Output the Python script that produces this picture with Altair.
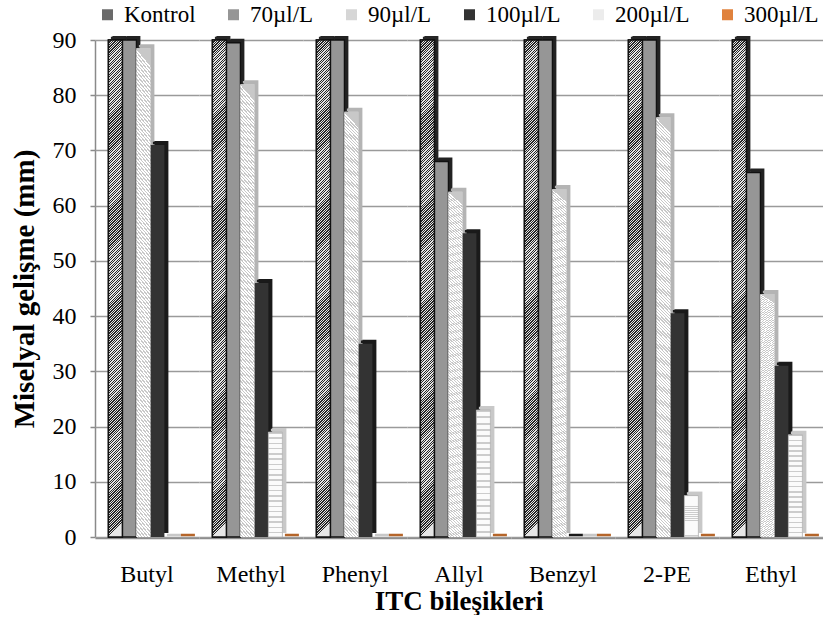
import altair as alt
import pandas as pd

categories = ["Butyl", "Methyl", "Phenyl", "Allyl", "Benzyl", "2-PE", "Ethyl"]
series = ["Kontrol", "70µl/L", "90µl/L", "100µl/L", "200µl/L", "300µl/L"]

kontrol = [90, 90, 90, 90, 90, 90, 90]
ul70 = [90, 89.5, 90, 68, 90, 90, 66]
ul90 = [88.5, 82, 77, 62.5, 63, 76, 44]
ul100 = [71, 46, 35, 55, 0, 40.5, 31]
ul200 = [0, 19, 0, 23, 0, 7.5, 18.5]
ul300 = [0, 0, 0, 0, 0, 0, 0]

front_colors = ["#6a6a6a", "#969696", "#d6d6d6", "#333333", "#ececec", "#e0823d"]
depth_colors = ["#262626", "#222222", "#b4b4b4", "#1a1a1a", "#c8c8c8", "#b5652a"]
shade_keys = ["d-" + s for s in series]

rows = []
for s, vals in zip(series, [kontrol, ul70, ul90, ul100, ul200, ul300]):
    for c, v in zip(categories, vals):
        rows.append({"cat": c, "series": s, "value": v})
df = pd.DataFrame(rows)

SERIF = "Liberation Serif"
LEGEND_FONT = "Times New Roman"


def stripes(c1, c2, n, frac, x1, y1, x2, y2):
    stops = []
    for i in range(n):
        s = i / n
        m = (i + frac) / n
        e = (i + 1) / n
        stops += [
            {"offset": round(s, 5), "color": c1},
            {"offset": round(m, 5), "color": c1},
            {"offset": round(m, 5), "color": c2},
            {"offset": round(min(e, 1.0), 5), "color": c2},
        ]
    return {"gradient": "linear", "x1": x1, "y1": y1, "x2": x2, "y2": y2, "stops": stops}


hatch_k = stripes("#262626", "#e6e6e6", 200, 0.48, 0, 0, 14 / 497, 1)
hatch_90 = stripes("#c8c8c8", "#ffffff", 130, 0.45, 14 / 400, 0, 0, 1)
hatch_200 = stripes("#cccccc", "#fbfbfb", 20, 0.3, 0, 0, 0, 1)

x_enc = alt.X(
    "series:N",
    sort=series,
    scale=alt.Scale(domain=series, paddingInner=0, paddingOuter=0.714, align=0.67),
    axis=alt.Axis(labels=False, ticks=False, title=None, domainColor="#8a8a8a", domainWidth=1.5),
)
y_enc = alt.Y(
    "value:Q",
    scale=alt.Scale(domain=[0, 90], nice=False),
    axis=alt.Axis(
        values=list(range(0, 91, 10)),
        title="Miselyal gelişme (mm)",
        titleFont=SERIF,
        titleFontSize=29,
        titleFontWeight="bold",
        titleColor="black",
        titlePadding=13,
        labelFont=SERIF,
        labelFontSize=24,
        labelColor="black",
        labelPadding=14,
        tickSize=5,
        tickColor="#8a8a8a",
        tickWidth=1.5,
        domainColor="#8a8a8a",
        domainWidth=1.5,
        gridColor="#9a9a9a",
        gridWidth=1.3,
    ),
)

base = alt.Chart().transform_calculate(shade="'d-' + datum.series")

depth = base.mark_bar(xOffset=4, yOffset=-4).encode(
    x=x_enc,
    y=y_enc,
    fill=alt.Fill("shade:N", scale=alt.Scale(domain=shade_keys, range=depth_colors), legend=None),
)

flat = base.mark_bar(xOffset=2.5, yOffset=-2, y2Offset=-2, strokeWidth=2.5, fillOpacity=0).encode(
    x=x_enc,
    y=y_enc,
    y2=alt.Y2("value"),
    stroke=alt.Stroke("shade:N", scale=alt.Scale(domain=shade_keys, range=depth_colors), legend=None),
)

front = alt.Chart().mark_bar(strokeWidth=1.3).encode(
    x=x_enc,
    y=y_enc,
    color=alt.Color(
        "series:N",
        scale=alt.Scale(domain=series, range=front_colors),
        legend=alt.Legend(
            orient="none",
            legendX=1,
            legendY=-37,
            direction="horizontal",
            title=None,
            labelFont=LEGEND_FONT,
            labelFontSize=23,
            labelColor="black",
            symbolType="square",
            symbolSize=121,
            symbolStrokeWidth=0,
            columnPadding=26,
            labelOffset=5,
        ),
    ),
    stroke=alt.condition(
        alt.FieldOneOfPredicate(field="series", oneOf=["Kontrol", "70µl/L"]),
        alt.value("#111111"),
        alt.value("transparent"),
    ),
)

over_k = alt.Chart().transform_filter(alt.datum.series == "Kontrol").mark_bar(
    stroke="#111111", strokeWidth=1.5
).encode(x=x_enc, y=y_enc, fill=alt.value(hatch_k))

over_90 = alt.Chart().transform_filter(alt.datum.series == "90µl/L").mark_bar().encode(
    x=x_enc, y=y_enc, fill=alt.value(hatch_90)
)

over_200 = alt.Chart().transform_filter(
    (alt.datum.series == "200µl/L") & (alt.datum.value > 0)
).mark_bar(stroke="#b0b0b0", strokeWidth=0.8).encode(x=x_enc, y=y_enc, fill=alt.value(hatch_200))

layered = alt.layer(depth, flat, front, over_k, over_90, over_200, data=df).properties(
    width=104, height=497
)

chart = layered.facet(
    column=alt.Column(
        "cat:N",
        sort=categories,
        header=alt.Header(
            title="ITC bileşikleri",
            titleOrient="bottom",
            titleFont=SERIF,
            titleFontSize=27,
            titleFontWeight="bold",
            titleColor="black",
            titlePadding=-8,
            labelOrient="bottom",
            labelFont=SERIF,
            labelFontSize=24,
            labelColor="black",
            labelPadding=25,
        ),
    ),
    spacing=0,
).configure(font=SERIF).configure_view(stroke=None).configure_legend(
    labelFont=LEGEND_FONT, labelFontSize=23, labelColor="black"
).properties(
    padding={"left": 10, "top": 3, "right": 0, "bottom": 0}
)

chart.save("out.html", embed_options={"renderer": "svg", "actions": False})
